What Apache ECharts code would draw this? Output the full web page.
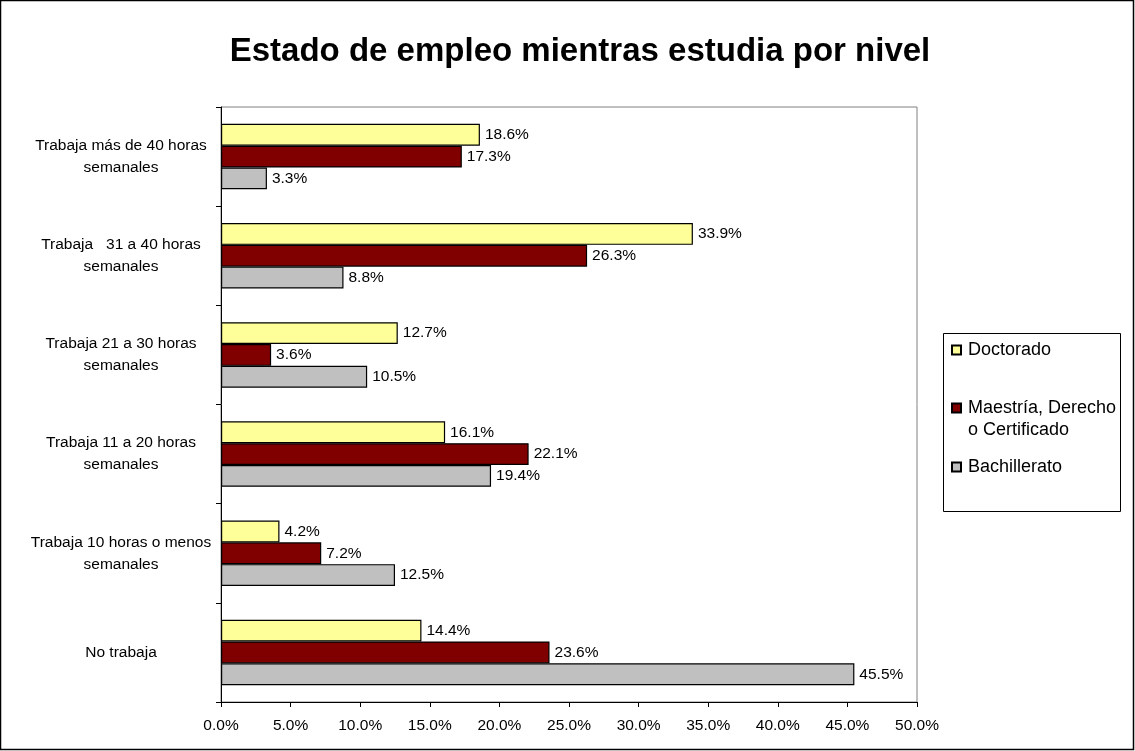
<!DOCTYPE html>
<html>
<head>
<meta charset="utf-8">
<script src="https://cdn.jsdelivr.net/npm/echarts@6/dist/echarts.min.js"></script>
<style>
html,body{margin:0;padding:0;background:#fff;}
#chart{width:1135px;height:751px;}
</style>
</head>
<body>
<div id="chart"></div>
<script>
var titleText = 'Estado de empleo mientras estudia por nivel';
var categories = [
  'Trabaja más de 40 horas\nsemanales',
  'Trabaja   31 a 40 horas\nsemanales',
  'Trabaja 21 a 30 horas\nsemanales',
  'Trabaja 11 a 20 horas\nsemanales',
  'Trabaja 10 horas o menos\nsemanales',
  'No trabaja'
];
var seriesNames = ['Doctorado', 'Maestría, Derecho\no Certificado', 'Bachillerato'];
var doctorado    = [18.6, 33.9, 12.7, 16.1, 4.2, 14.4];
var maestria     = [17.3, 26.3, 3.6, 22.1, 7.2, 23.6];
var bachillerato = [3.3, 8.8, 10.5, 19.4, 12.5, 45.5];
var colors = ['#FFFF99', '#800000', '#C0C0C0'];
var xMin = 0, xMax = 50, xStep = 5;

var FONT = "'Liberation Sans', Arial, sans-serif";
var seriesData = [doctorado, maestria, bachillerato];

var chart = echarts.init(document.getElementById('chart'), null, {renderer: 'canvas'});

function mkSeries(i) {
  return {
    name: seriesNames[i],
    type: 'bar',
    data: seriesData[i],
    barGap: '0%',
    barCategoryGap: '34%',
    itemStyle: {color: colors[i], borderColor: '#000', borderWidth: 1.2},
    label: {
      show: true, position: 'right', distance: 5,
      formatter: function (p) { return p.value.toFixed(1) + '%'; },
      color: '#000', fontSize: 15.5, fontFamily: FONT
    },
    emphasis: {disabled: true},
    animation: false
  };
}

function mkLegend(i, top, fmt) {
  return {
    orient: 'vertical', left: 951, top: top, padding: 0,
    data: [seriesNames[i]],
    icon: 'rect', itemWidth: 9, itemHeight: 9,
    selectedMode: false,
    formatter: fmt || function (n) { return n; },
    textStyle: {fontSize: 18, fontFamily: FONT, color: '#000', lineHeight: 22, padding: [0, 0, 0, 2]}
  };
}

chart.setOption({
  backgroundColor: '#fff',
  animation: false,
  title: {
    text: titleText, left: 575, top: 30, textAlign: 'center',
    textStyle: {fontSize: 33, fontWeight: 'bold', fontFamily: FONT, color: '#000'}
  },
  legend: [
    mkLegend(0, 339),
    mkLegend(1, 375, function (n) { return '\n' + n; }),
    mkLegend(2, 456)
  ],
  grid: {
    left: 221, right: 218, top: 107, bottom: 49,
    containLabel: false, outerBoundsMode: 'none',
    show: true, borderColor: '#808080', borderWidth: 1, backgroundColor: '#fff'
  },
  xAxis: {
    type: 'value', min: xMin, max: xMax, interval: xStep,
    axisLine: {show: true, lineStyle: {color: '#000', width: 1}},
    axisTick: {show: true, length: 5, lineStyle: {color: '#000'}},
    splitLine: {show: false},
    axisLabel: {
      formatter: function (v) { return v.toFixed(1) + '%'; },
      fontSize: 15.5, fontFamily: FONT, color: '#000', margin: 16
    }
  },
  yAxis: {
    type: 'category', data: categories, inverse: true,
    axisLine: {show: true, lineStyle: {color: '#000', width: 1}},
    axisTick: {show: true, length: 5, lineStyle: {color: '#000'}},
    axisLabel: {
      fontSize: 15.5, fontFamily: FONT, color: '#000', align: 'center',
      margin: 100, lineHeight: 22
    }
  },
  graphic: [
    {type: 'rect', shape: {x: 0.5, y: 0.5, width: 1133, height: 749},
     style: {fill: 'none', stroke: '#000', lineWidth: 1.5}, silent: true, z: 100},
    {type: 'rect', shape: {x: 943.5, y: 333.5, width: 177, height: 178},
     style: {fill: 'none', stroke: '#000', lineWidth: 1}, silent: true, z: 100}
  ],
  series: [mkSeries(0), mkSeries(1), mkSeries(2)]
});
</script>
</body>
</html>
